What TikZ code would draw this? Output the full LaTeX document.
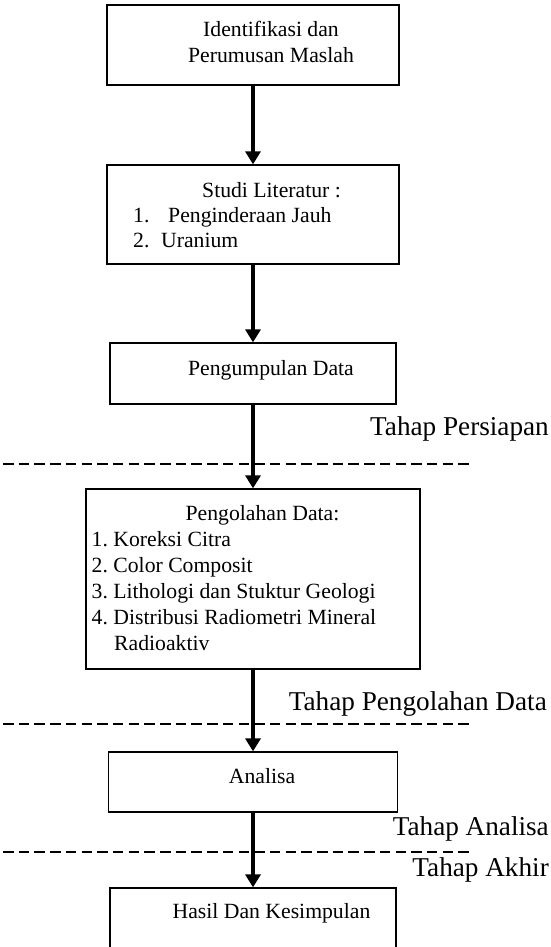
\documentclass[tikz,border=0pt]{standalone}
\usepackage{fontspec}
\setmainfont{Liberation Serif}
\usetikzlibrary{arrows.meta}
\frenchspacing

\begin{document}
\begin{tikzpicture}[x=1pt,y=-1pt]
			\useasboundingbox (0,0) rectangle (551,947);

			\begin{scope}[dash pattern=on 10.5pt off 5.2pt, line width=1.2pt]
				\draw (3,464) -- (473,464);
				\draw (3,724) -- (473,724);
				\draw (3,852) -- (473,852);
			\end{scope}

			\begin{scope}[every node/.style={rectangle,draw,line width=1.3pt,inner sep=0pt}]
				\node[minimum width=292pt,minimum height=80pt] (ident) at (253,45) {};
				\node[minimum width=292pt,minimum height=99pt] (studi) at (253,214.5) {};
				\node[minimum width=286pt,minimum height=61pt] (kumpul) at (253,373.5) {};
				\node[minimum width=334pt,minimum height=180pt] (olah) at (253,579) {};
				\node[minimum width=289pt,minimum height=60pt] (analisa) at (253,782) {};
				\node[minimum width=286pt,minimum height=80pt] (hasil) at (253,928) {};
			\end{scope}

			\begin{scope}[every node/.style={inner sep=0pt,font=\fontsize{21.7}{26}\selectfont}]
				\node[anchor=base] (ident1) at (271,37) {Identifikasi dan};
				\node[anchor=base] (ident2) at (271,63) {Perumusan Maslah};
				\node[anchor=base] (studi0) at (271.5,197) {Studi Literatur :};
				\node[anchor=base west] (studi1n) at (133,222) {1.};
				\node[anchor=base west] (studi1) at (168,222) {Penginderaan Jauh};
				\node[anchor=base west] (studi2n) at (133,247) {2.};
				\node[anchor=base west] (studi2) at (161,247) {Uranium};
				\node[anchor=base] (kumpul0) at (271,375) {Pengumpulan Data};
				\node[anchor=base] (olah0) at (262.5,520) {Pengolahan Data:};
				\foreach \entry [count=\i] in {1. Koreksi Citra, 2. Color Composit,
					3. Lithologi dan Stuktur Geologi, 4. Distribusi Radiometri Mineral}
					\node[anchor=base west] (olah\i) at (91.5,{520+26*\i}) {\entry};
				\node[anchor=base west] (olah5) at (114,650) {Radioaktiv};
				\node[anchor=base] (analisa0) at (262,783) {Analisa};
				\node[anchor=base] (hasil0) at (271.5,918) {Hasil Dan Kesimpulan};
			\end{scope}

			\begin{scope}[every node/.style={inner sep=0pt,anchor=base east,font=\fontsize{27.2}{32}\selectfont}]
				\node (persiapan) at (549,435) {Tahap Persiapan};
				\node (pengolahan) at (547,710) {Tahap Pengolahan Data};
				\node (tanalisa) at (549,835) {Tahap Analisa};
				\node (akhir) at (549,876) {Tahap Akhir};
			\end{scope}

			\begin{scope}[>={Triangle[width=15pt,length=13pt]},
				every edge/.style={draw,->,line width=3.3pt}]
				\path (ident) edge (studi);
				\path (studi) edge (kumpul);
				\path (kumpul) edge (olah);
				\path (olah) edge (analisa);
				\path (analisa) edge (hasil);
			\end{scope}
		\end{tikzpicture}
\end{document}
